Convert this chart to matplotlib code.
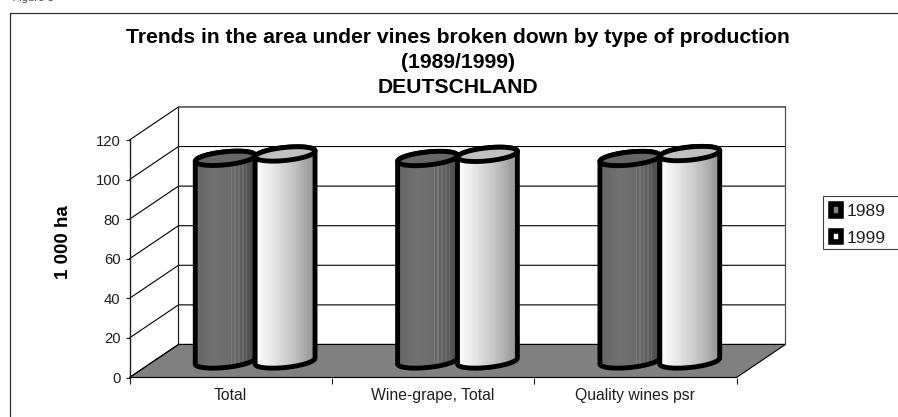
import numpy as np
import matplotlib
matplotlib.use('Agg')
import matplotlib.pyplot as plt
from matplotlib.patches import Patch, Polygon, Rectangle

categories = ['Total', 'Wine-grape, Total', 'Quality wines psr']
years = ['1989', '1999']
values_1989 = [102.4, 102.3, 102.3]
values_1999 = [104.6, 104.4, 104.8]
y_ticks = [0, 20, 40, 60, 80, 100, 120]

W, H = 898, 417
plt.rcParams['font.family'] = ['Liberation Sans', 'DejaVu Sans']

fig = plt.figure(figsize=(W / 100, H / 100), dpi=100, facecolor='white')

# fondo en pixeles: marco, titulo, leyenda
bg = fig.add_axes([0, 0, 1, 1])
bg.set_xlim(0, W)
bg.set_ylim(H, 0)
bg.axis('off')
bg.plot([9.5, 9.5, W + 5], [H + 5, 12.5, 12.5], color='#303030', lw=0.9, clip_on=False)
bg.text(13, 0.8, 'Figure 5', fontsize=8, style='italic', color='#444444', va='baseline', clip_on=True)
title_size = 15.2
bg.text(458, 37, 'Trends in the area under vines broken down by type of production',
        fontsize=title_size, fontweight='bold', ha='center', va='center')
bg.text(458, 62, '(1989/1999)', fontsize=title_size, fontweight='bold', ha='center', va='center')
bg.text(458, 87, 'DEUTSCHLAND', fontsize=title_size, fontweight='bold', ha='center', va='center')
bg.text(64, 242, '1 000 ha', fontsize=13.5, fontweight='bold', rotation=90, ha='center', va='center')

# caja de la leyenda
bg.add_patch(Rectangle((823, 195.5), W, 53.5, facecolor='white', edgecolor='#404040', lw=0.8))

ax = fig.add_axes([129.5 / W, 1 - 377.5 / H, 607 / W, 237.5 / H])
ax.patch.set_visible(False)
ax.set_xlim(0, 3)
ax.set_ylim(0, 120)

# profundidad del grafico 3D en unidades de datos
DX = 0.242
DY = 16.7
BAR_A = 0.148
ELL_B = 3.3
ELL_K = 1.5

for s in ['top', 'right', 'bottom']:
    ax.spines[s].set_visible(False)
ax.spines['left'].set_linewidth(1.0)
ax.spines['left'].set_color('#202020')
ax.set_yticks(y_ticks)
ax.tick_params(axis='y', length=3, width=0.8, labelsize=10.7, pad=3.5, color='#202020', labelcolor='#202020')
ax.set_xticks([0, 1, 2, 3])
ax.set_xticklabels([])
ax.tick_params(axis='x', length=4, width=0.8, color='#202020')
for i, c in enumerate(categories):
    ax.text(i + 0.5, -9, c, fontsize=11.3, ha='center', va='center', color='#202020')

# suelo y paredes
ax.add_patch(Polygon([(0, 0), (DX, DY), (3 + DX, DY), (3, 0)], closed=True, facecolor='#808080',
                     edgecolor='#000000', lw=0.8, clip_on=False, zorder=1))
for t in y_ticks:
    ax.plot([0, DX, 3 + DX], [t, t + DY, t + DY], color='#000000', lw=0.8, clip_on=False, zorder=1)
ax.plot([DX, DX], [DY, 120 + DY], color='#202020', lw=0.9, clip_on=False, zorder=1)
ax.plot([3 + DX, 3 + DX], [DY, 120 + DY], color='#505050', lw=0.9, clip_on=False, zorder=1)


def ramp(stops, stripes):
    pos = np.linspace(0, 1, 32)
    vals = np.interp(pos, [p for p, _ in stops], [v for _, v in stops])
    if stripes:
        vals[1::2] += np.where((pos[1::2] > 0.55) & (pos[1::2] < 0.9), 0.07, 0)
    return vals[np.newaxis, :]


def cylinder(cx, value, stops, top_color, stripes, z):
    t = np.linspace(0, 2 * np.pi, 121)
    base = DY / 2
    top = base + value
    ex = cx + BAR_A * np.cos(t)
    ey = ELL_K * np.cos(t) + ELL_B * np.sin(t)
    # cuerpo: media elipse inferior + media elipse superior
    lower = t >= np.pi
    upper = t <= np.pi
    xs = np.r_[ex[lower], ex[upper]]
    ys = np.r_[base + ey[lower], top + ey[upper]]
    body = Polygon(np.c_[xs, ys], closed=True, facecolor='none', edgecolor='black', lw=3.5,
                   joinstyle='round', clip_on=False, zorder=z + 0.2)
    ax.add_patch(body)
    im = ax.imshow(ramp(stops, stripes), cmap='gray', vmin=0, vmax=1, aspect='auto', interpolation='nearest',
                   extent=[cx - BAR_A, cx + BAR_A, base - 6, top + 4], zorder=z)
    clip = Polygon(np.c_[xs, ys], closed=True, transform=ax.transData)
    im.set_clip_path(clip)
    ax.add_patch(Polygon(np.c_[ex, top + ey], closed=True, facecolor=top_color, edgecolor='black', lw=3.5,
                         clip_on=False, zorder=z + 0.3))


stops_1989 = [(0, 0.40), (0.3, 0.44), (0.6, 0.42), (1, 0.30)]
stops_1999 = [(0, 1.0), (0.35, 0.88), (0.7, 0.74), (1, 0.58)]
for i in range(len(categories)):
    center = i + 0.5 + DX / 2
    cylinder(center - BAR_A, values_1989[i], stops_1989, '#666666', True, 3 + i)
    cylinder(center + BAR_A, values_1999[i], stops_1999, '#c0c0c0', False, 3.5 + i)
ax.set_xlim(0, 3)
ax.set_ylim(0, 120)

handles = [Patch(facecolor='#808080', edgecolor='black', lw=4.0, label=years[0]),
           Patch(facecolor='white', edgecolor='black', lw=4.0, label=years[1])]
bg.legend(handles=handles, loc='upper left', bbox_to_anchor=(824.5 / W, 1 - 198 / H), bbox_transform=fig.transFigure,
          frameon=False, fontsize=12.5, handlelength=0.62, handleheight=0.62, handletextpad=0.3,
          labelspacing=0.67, borderpad=0.35, borderaxespad=0, labelcolor='#202020')

fig.savefig('out.png', dpi=100)
